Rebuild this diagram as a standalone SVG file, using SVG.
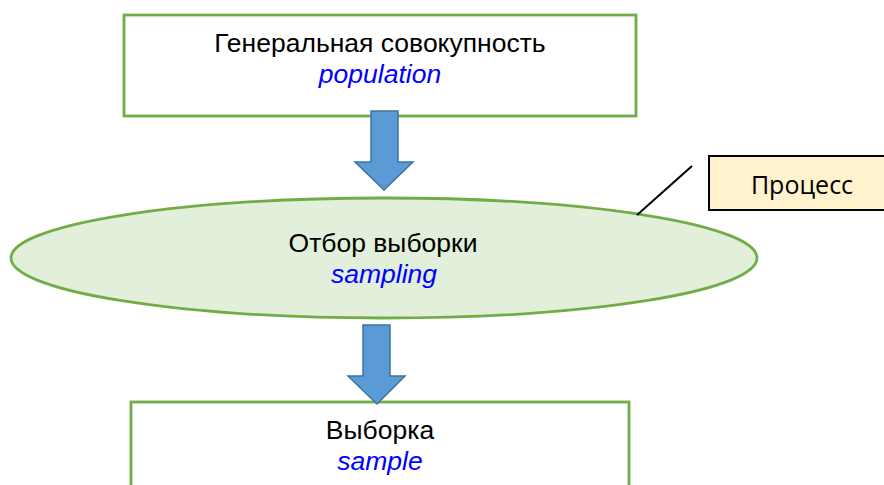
<svg xmlns="http://www.w3.org/2000/svg" width="884" height="485" viewBox="0 0 884 485">
<style>
.box{fill:#ffffff;stroke:#70AD47;stroke-width:2.8}
.ell{fill:#E2EFDA;stroke:#70AD47;stroke-width:2.8}
.arr{fill:#5B9BD5;stroke:#41719C;stroke-width:1.5}
.t{font-family:"Liberation Sans",Arial,sans-serif;font-size:26.5px;fill:#000;text-anchor:middle}
.e{font-family:"Liberation Sans",Arial,sans-serif;font-size:26.5px;font-style:italic;fill:#0000FF;text-anchor:middle}
.c{font-family:"Open Sans","Liberation Sans",sans-serif;font-size:25px;fill:#000;text-anchor:middle}
</style>
<rect width="884" height="485" fill="#ffffff"/>
<g id="population">
<rect class="box" x="124" y="15" width="512" height="101"/>
<text class="t" x="380" y="52">Генеральная совокупность</text>
<text class="e" x="380" y="83">population</text>
</g>
<g id="sampling">
<ellipse class="ell" cx="384" cy="258" rx="373" ry="60"/>
<text class="t" x="383" y="252">Отбор выборки</text>
<text class="e" x="384" y="283">sampling</text>
</g>
<g id="sample">
<rect class="box" x="131" y="402" width="498" height="100"/>
<text class="t" x="380" y="439">Выборка</text>
<text class="e" x="380" y="470">sample</text>
</g>
<g id="process">
<rect x="709" y="156" width="185" height="54" fill="#FFF2CC" stroke="#000" stroke-width="2"/>
<text class="c" x="802" y="194">Процесс</text>
</g>
<g id="connectors">
<polygon class="arr" points="371,111 398,111 398,162 413,162 384,190 355,162 371,162"/>
<polygon class="arr" points="363,325 390,325 390,376 405,376 377,404 348,376 363,376"/>
<line x1="637" y1="215" x2="692" y2="166" stroke="#000" stroke-width="2"/>
</g>
</svg>
